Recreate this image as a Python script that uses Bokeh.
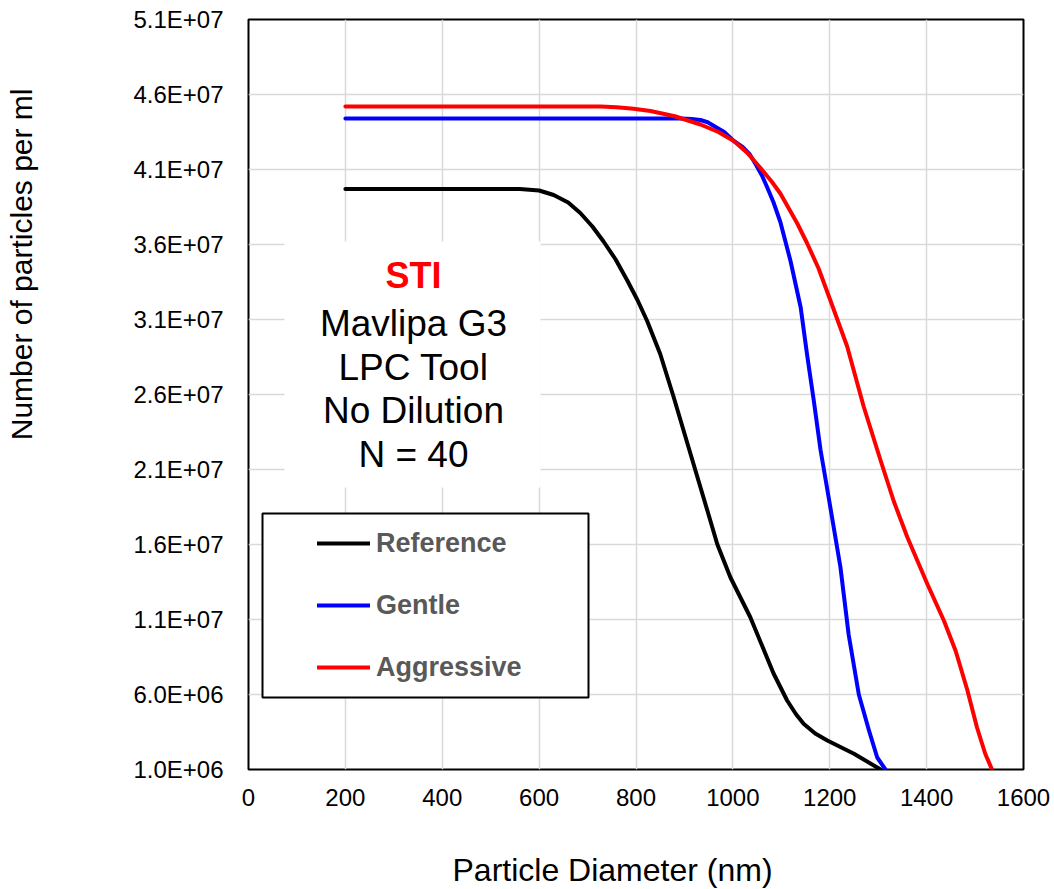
import math
from bokeh.plotting import figure
from bokeh.models import Range1d, FixedTicker, Label, BoxAnnotation, Legend, LegendItem, Title
from bokeh.embed import file_html
from bokeh.resources import INLINE

# ---------------- data ----------------
ref_diam = [200, 300, 400, 500, 560, 600, 630, 660, 685, 710, 733, 758, 782, 803, 823,
            850, 878, 912, 947, 968, 995, 1036, 1084, 1112, 1130, 1146, 1170, 1195,
            1250, 1305]
ref_count = [39.7e6, 39.7e6, 39.7e6, 39.7e6, 39.7e6, 39.6e6, 39.3e6, 38.8e6, 38.1e6,
             37.2e6, 36.2e6, 35.0e6, 33.6e6, 32.3e6, 30.9e6, 28.7e6, 25.8e6, 22.1e6,
             18.3e6, 16.0e6, 13.8e6, 11.15e6, 7.4e6, 5.6e6, 4.7e6, 4.05e6, 3.4e6,
             2.93e6, 2.05e6, 1.0e6]

gentle_diam = [200, 400, 600, 800, 892, 915, 933, 948, 961, 982, 1002, 1020, 1035,
               1048, 1060, 1071, 1084, 1098, 1119, 1140, 1153, 1167, 1181, 1199, 1222,
               1239, 1260, 1281, 1298, 1315]
gentle_count = [44.4e6, 44.4e6, 44.4e6, 44.4e6, 44.4e6, 44.37e6, 44.3e6, 44.15e6,
                43.9e6, 43.5e6, 42.9e6, 42.5e6, 42.0e6, 41.3e6, 40.6e6, 39.8e6, 38.8e6,
                37.5e6, 34.9e6, 31.8e6, 28.7e6, 25.6e6, 22.3e6, 18.9e6, 14.5e6, 10.0e6,
                6.0e6, 3.6e6, 1.8e6, 1.0e6]

aggr_diam = [200, 400, 600, 700, 727, 760, 795, 830, 880, 933, 970, 1002, 1030, 1057,
             1080, 1098, 1112, 1133, 1153, 1177, 1201, 1236, 1270, 1305, 1332, 1360,
             1401, 1436, 1460, 1484, 1504, 1521, 1535]
aggr_count = [45.2e6, 45.2e6, 45.2e6, 45.2e6, 45.2e6, 45.15e6, 45.05e6, 44.9e6, 44.55e6,
              44.0e6, 43.5e6, 42.9e6, 42.1e6, 41.1e6, 40.2e6, 39.4e6, 38.6e6, 37.4e6,
              36.1e6, 34.4e6, 32.3e6, 29.2e6, 25.2e6, 21.6e6, 18.9e6, 16.5e6, 13.4e6,
              10.9e6, 8.9e6, 6.3e6, 3.8e6, 2.05e6, 1.0e6]

series_names = ["Reference", "Gentle", "Aggressive"]
series_colors = ["#000000", "#0000FF", "#FF0000"]

x_ticks = [0, 200, 400, 600, 800, 1000, 1200, 1400, 1600]
y_ticks = [1000000, 6000000, 11000000, 16000000, 21000000, 26000000, 31000000,
           36000000, 41000000, 46000000, 51000000]
y_tick_labels = ["1.0E+06", "6.0E+06", "1.1E+07", "1.6E+07", "2.1E+07", "2.6E+07",
                 "3.1E+07", "3.6E+07", "4.1E+07", "4.6E+07", "5.1E+07"]

x_title = "Particle Diameter (nm)"
y_title = "Number of particles per ml"
note_title = "STI"
note_lines = ["Mavlipa G3", "LPC Tool", "No Dilution", "N = 40"]

FONT = "Liberation Sans"

# ---------------- figure ----------------
p = figure(width=1050, height=889, output_backend="svg", toolbar_location=None,
           x_range=Range1d(0, 1600), y_range=Range1d(1e6, 5.1e7),
           min_border_left=248, min_border_right=27, min_border_top=19,
           min_border_bottom=120)
p.background_fill_color = "white"
p.border_fill_color = "white"
p.outline_line_color = "black"
p.outline_line_width = 2

p.xaxis.ticker = FixedTicker(ticks=x_ticks)
p.yaxis.ticker = FixedTicker(ticks=y_ticks)
p.yaxis.major_label_overrides = {v: s for v, s in zip(y_ticks, y_tick_labels)}
for ax in (p.xaxis, p.yaxis):
    ax.axis_line_color = None
    ax.major_tick_line_color = None
    ax.minor_tick_line_color = None
    ax.major_tick_out = 0
    ax.major_tick_in = 0
    ax.minor_tick_out = 0
    ax.minor_tick_in = 0
    ax.major_label_text_font = FONT
    ax.major_label_text_font_size = "24px"
    ax.major_label_text_color = "black"
    # blank spacer label, keeps room between tick labels and the titles
    ax.axis_label = " "
    ax.axis_label_text_font_size = "1px"
p.xaxis.major_label_standoff = 19
p.yaxis.major_label_standoff = 25
p.xaxis.axis_label_standoff = 37
p.yaxis.axis_label_standoff = 88

p.xgrid.ticker = FixedTicker(ticks=x_ticks)
p.ygrid.ticker = FixedTicker(ticks=y_ticks)
for g in (p.xgrid, p.ygrid):
    g.grid_line_color = "#D9D9D9"
    g.grid_line_width = 1.5

# axis titles (placed as side titles so they can sit off-centre like the reference)
p.add_layout(Title(text=x_title, align="left", offset=204, standoff=0,
                   vertical_align="bottom", text_font=FONT, text_font_size="32px",
                   text_font_style="normal", text_color="black"), "below")
p.add_layout(Title(text=y_title, align="right", offset=69, standoff=0,
                   vertical_align="middle", text_font=FONT, text_font_size="30px",
                   text_font_style="normal", text_color="black"), "left")

# white panel behind the note text
p.add_layout(BoxAnnotation(left=36, right=292, bottom=282, top=528,
                           left_units="screen", right_units="screen",
                           bottom_units="screen", top_units="screen",
                           fill_color="white", fill_alpha=1.0, line_alpha=0))

renderers = []
for xs, ys, c in zip([ref_diam, gentle_diam, aggr_diam],
                     [ref_count, gentle_count, aggr_count], series_colors):
    r = p.line(xs, ys, line_color=c, line_width=4, line_cap="round", line_join="round")
    renderers.append(r)

# legend frame
p.add_layout(BoxAnnotation(left=14, right=340, bottom=72, top=256,
                           left_units="screen", right_units="screen",
                           bottom_units="screen", top_units="screen",
                           fill_color="white", fill_alpha=1.0,
                           line_color="black", line_alpha=1.0, line_width=2))

legend = Legend(items=[LegendItem(label=n, renderers=[r]) for n, r in zip(series_names, renderers)],
                location=(69, 86), padding=0, margin=0, spacing=30,
                glyph_width=53, glyph_height=32, label_height=32, label_standoff=6,
                label_text_font=FONT, label_text_font_style="bold",
                label_text_font_size="27px", label_text_color="#595959",
                border_line_alpha=0, background_fill_alpha=0)
p.add_layout(legend, "center")

# note text
p.add_layout(Label(x=165, y=494, x_units="screen", y_units="screen", text=note_title,
                   text_align="center", text_baseline="middle", text_font=FONT,
                   text_font_size="36px", text_font_style="bold", text_color="#FF0000"))
for i, t in enumerate(note_lines):
    p.add_layout(Label(x=165, y=446 - i * 43.5, x_units="screen", y_units="screen", text=t,
                       text_align="center", text_baseline="middle", text_font=FONT,
                       text_font_size="37px", text_color="black"))

open("out.html", "w").write(file_html(p, INLINE))
